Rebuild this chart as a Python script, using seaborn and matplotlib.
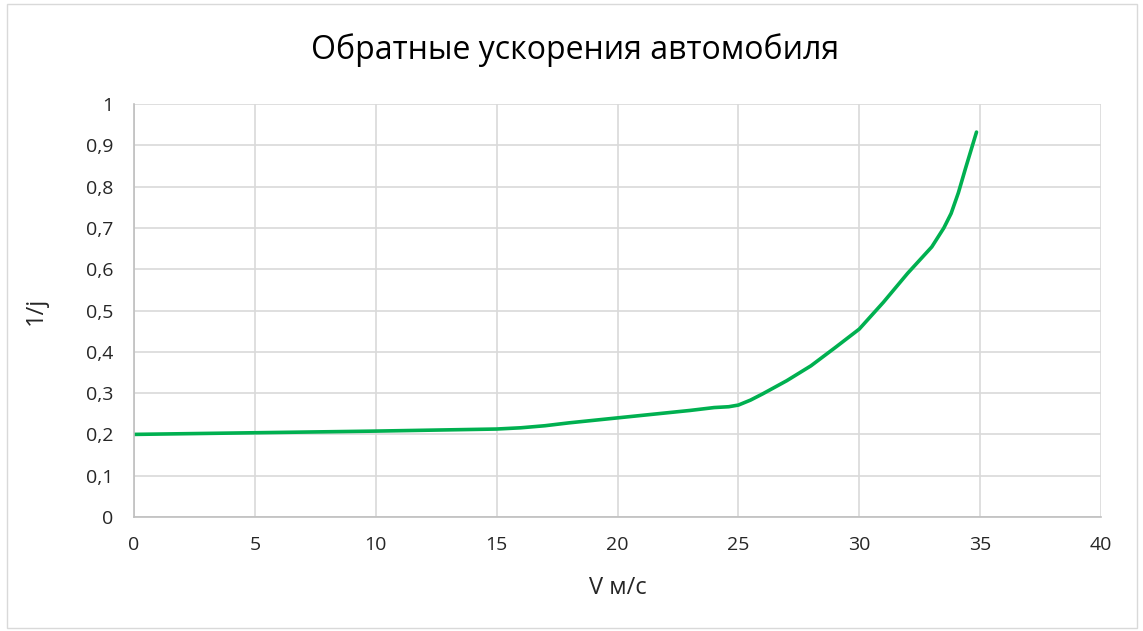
import numpy as np
import pandas as pd
import matplotlib
matplotlib.use("Agg")
import matplotlib.pyplot as plt
import seaborn as sns
from matplotlib.patches import Rectangle

# данные
speed = [0, 5, 10, 15, 16, 17, 18, 19, 20, 21, 22, 23, 24, 24.6, 25, 25.5,
         26, 27, 28, 29, 30, 31, 32, 33, 33.5, 33.8, 34.1, 34.4, 34.85]
inv_accel = [0.200, 0.204, 0.208, 0.213, 0.216, 0.221, 0.228, 0.234, 0.240,
             0.246, 0.252, 0.258, 0.265, 0.267, 0.271, 0.283, 0.298, 0.330,
             0.366, 0.410, 0.455, 0.520, 0.590, 0.654, 0.700, 0.735, 0.785,
             0.845, 0.932]
x_ticks = [0, 5, 10, 15, 20, 25, 30, 35, 40]
y_ticks = [0, 0.1, 0.2, 0.3, 0.4, 0.5, 0.6, 0.7, 0.8, 0.9, 1]

df = pd.DataFrame({"V": speed, "inv_j": inv_accel})

sns.set_style("whitegrid")
plt.rcParams['font.family'] = ['Open Sans', 'DejaVu Sans']

fig = plt.figure(figsize=(11.43, 6.31), dpi=100)
ax = fig.add_axes([134 / 1143, 1 - 517 / 631, (1101 - 134) / 1143, (517 - 104) / 631])

sns.lineplot(data=df, x="V", y="inv_j", ax=ax, color="#00b050", linewidth=2.6, sort=False)

ax.set_xlim(0, 40)
ax.set_ylim(0, 1)
ax.set_xticks(x_ticks)
ax.set_yticks(y_ticks)
ax.set_xticklabels([str(t) for t in x_ticks], fontsize=14, color="#262626")
ax.set_yticklabels([("%g" % t).replace(".", ",") for t in y_ticks], fontsize=14, color="#262626")
ax.tick_params(axis="x", length=0, pad=14)
ax.tick_params(axis="y", length=0, pad=15)

ax.grid(True, color="#d9d9d9", linewidth=1.2)
for side in ["top", "right"]:
    ax.spines[side].set_visible(False)
for side in ["left", "bottom"]:
    ax.spines[side].set_color("#bfbfbf")
    ax.spines[side].set_linewidth(1.2)

ax.set_xlabel("V м/с", fontsize=17, color="#262626")
ax.set_ylabel("1/j", fontsize=17, color="#262626")
ax.xaxis.set_label_coords(0.5, (517 - 576) / 413)
ax.yaxis.set_label_coords((48 - 134) / 967, 0.5)
fig.text(0.503, 0.921, "Обратные ускорения автомобиля", ha="center", va="center",
         fontsize=23, color="#000000")

# рамка диаграммы
fig.patches.append(Rectangle((7 / 1143, 3 / 631), 1130 / 1143, 624 / 631,
                             transform=fig.transFigure, fill=False,
                             edgecolor="#d9d9d9", linewidth=1))

fig.savefig("out.png", dpi=100)
